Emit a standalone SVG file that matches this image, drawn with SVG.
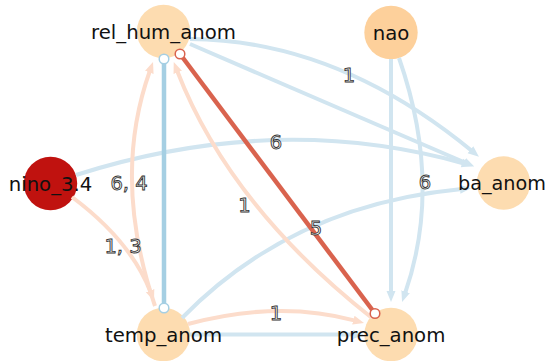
<svg xmlns="http://www.w3.org/2000/svg" width="547" height="361" viewBox="0 0 547 361">
<style>
.n{stroke:none}
.nl{font-family:"DejaVu Sans",sans-serif;font-size:19.7px;fill:#111;text-anchor:middle}
.el{font-family:"DejaVu Sans",sans-serif;font-size:19.5px;fill:#fff;stroke:#333;stroke-width:0.9;text-anchor:middle}
.b{fill:none;stroke:#d1e5f0;stroke-width:4}
.o{fill:none;stroke:#fcdccb;stroke-width:4}
</style>
<defs>
<marker id="ab" markerUnits="userSpaceOnUse" markerWidth="14" markerHeight="12" viewBox="0 -6 14 12" refX="2" refY="0" orient="auto"><path d="M0,-4.5 L11,0 L0,4.5 z" fill="#d1e5f0"/></marker>
<marker id="ao" markerUnits="userSpaceOnUse" markerWidth="14" markerHeight="12" viewBox="0 -6 14 12" refX="2" refY="0" orient="auto"><path d="M0,-4.5 L11,0 L0,4.5 z" fill="#fcdccb"/></marker>
</defs>
<g id="node-rel_hum_anom"><circle class="n" cx="163.5" cy="31.5" r="26.7" fill="#fddcb0"/></g>
<g id="node-nao"><circle class="n" cx="391" cy="32.5" r="26.7" fill="#fdd09b"/></g>
<g id="node-nino_3.4"><circle class="n" cx="50.5" cy="183.5" r="26.7" fill="#c0120f"/></g>
<g id="node-ba_anom"><circle class="n" cx="503.5" cy="183" r="26.7" fill="#fddcb0"/></g>
<g id="node-temp_anom"><circle class="n" cx="163.5" cy="334.5" r="26.7" fill="#fddcb0"/></g>
<g id="node-prec_anom"><circle class="n" cx="391" cy="334.5" r="26.7" fill="#fddcb0"/></g>
<g id="connectors">
<path class="b" d="M190,39 Q337,40 472,151" marker-end="url(#ab)"/>
<path class="b" d="M190,44 L466,163" marker-end="url(#ab)"/>
<path class="b" d="M76,175 Q277,111 464,163.5" marker-end="url(#ab)"/>
<path class="b" d="M182,318 Q292,205 462,189" marker-end="url(#ab)"/>
<path class="b" d="M190,334.5 L355,334.5" marker-end="url(#ab)"/>
<path class="b" d="M391,59 L391,293" marker-end="url(#ab)"/>
<path class="b" d="M399,58 Q443,184 405,293.5" marker-end="url(#ab)"/>
<path class="o" d="M72,197 Q131,241 150.8,292.6" marker-end="url(#ao)"/>
<path class="o" d="M155,306 Q111.5,178 150,70.5" marker-end="url(#ao)"/>
<path class="o" d="M372,318 Q229.5,205.75 177,70.5" marker-end="url(#ao)"/>
<path class="o" d="M188,324 Q278.4,299.7 355.3,320.6" marker-end="url(#ao)"/>
<line x1="180" y1="54" x2="375" y2="313.5" stroke="#d9634e" stroke-width="4.5"/>
<circle cx="180" cy="54" r="4.8" fill="#fff" stroke="#d9634e" stroke-width="1.5"/>
<circle cx="375" cy="313.5" r="4.8" fill="#fff" stroke="#d9634e" stroke-width="1.5"/>
<line x1="164" y1="59" x2="164" y2="308" stroke="#a5cfe3" stroke-width="4.5"/>
<circle cx="164" cy="59" r="4.8" fill="#fff" stroke="#a5cfe3" stroke-width="1.5"/>
<circle cx="164" cy="308" r="4.8" fill="#fff" stroke="#a5cfe3" stroke-width="1.5"/>
</g>
<g id="node-labels">
<text class="nl" x="163.5" y="38.5">rel_hum_anom</text>
<text class="nl" x="391" y="39.5">nao</text>
<text class="nl" x="50.5" y="190.5">nino_3.4</text>
<text class="nl" x="458" y="190" style="text-anchor:start;font-size:19.2px">ba_anom</text>
<text class="nl" x="163.5" y="341.5">temp_anom</text>
<text class="nl" x="391" y="341.5">prec_anom</text>
</g>
<g id="edge-labels">
<text class="el" x="349" y="82">1</text>
<text class="el" x="276" y="149">6</text>
<text class="el" x="129" y="190">6, 4</text>
<text class="el" x="123" y="253">1, 3</text>
<text class="el" x="244.5" y="212">1</text>
<text class="el" x="316" y="235">5</text>
<text class="el" x="425" y="189">6</text>
<text class="el" x="276" y="320">1</text>
</g>
</svg>
